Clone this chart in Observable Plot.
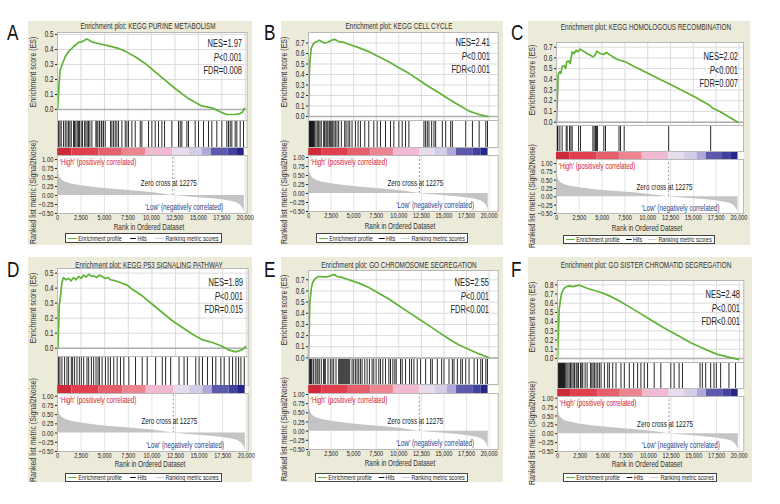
<!DOCTYPE html>
<html><head><meta charset="utf-8">
<script src="https://cdn.jsdelivr.net/npm/d3@7"></script>
<script src="https://cdn.jsdelivr.net/npm/@observablehq/plot@0.6"></script>
<style>
body{margin:0;background:#fff;}
#root{position:relative;width:780px;height:504px;overflow:hidden;font-family:"Liberation Sans",Arial,sans-serif;color:#222;}
.box{position:absolute;background:#ecead9;}
.abs{position:absolute;white-space:nowrap;line-height:1;}
.letter{font-size:22px;color:#111;transform-origin:0 0;transform:scaleX(0.78);}
.title{font-size:8.5px;transform:translate(-50%,-50%) scaleX(0.75);color:#333;}
.ylab{font-size:9.5px;transform:translate(-50%,-50%) rotate(-90deg) scaleX(0.74);color:#333;}
.nes{font-size:10px;transform-origin:100% 50%;transform:translate(-100%,-50%) scaleX(0.75);}
.xlab{font-size:8.5px;transform:translate(-50%,-50%) scaleX(0.75);color:#333;}
.legend{position:absolute;background:#fff;border:1px solid #444;box-sizing:border-box;overflow:hidden;}
.legend .in{height:100%;display:flex;align-items:center;justify-content:space-between;padding:0 3px;box-sizing:border-box;font-size:7.5px;color:#222;transform-origin:0 50%;transform:scaleX(0.72);white-space:nowrap;}
.legend .it{display:flex;align-items:center;gap:2px;}
.legend .ln{display:inline-block;width:12px;border-top:1.5px solid;}
svg{overflow:visible;}
</style></head><body><div id="root"></div><script>
// ---------------- data ----------------
const panelLetters = ["A","B","C","D","E","F"];
const panelTitles = [
  "Enrichment plot: KEGG PURINE METABOLISM",
  "Enrichment plot: KEGG CELL CYCLE",
  "Enrichment plot: KEGG HOMOLOGOUS RECOMBINATION",
  "Enrichment plot: KEGG P53 SIGNALING PATHWAY",
  "Enrichment plot: GO CHROMOSOME SEGREGATION",
  "Enrichment plot: GO SISTER CHROMATID SEGREGATION"
];
const nesValues = ["1.97","2.41","2.02","1.89","2.55","2.48"];
const pValues = ["<0.001","<0.001","<0.001","<0.001","<0.001","<0.001"];
const fdrValues = ["=0.008","<0.001","=0.007","=0.015","<0.001","<0.001"];

const xTicks = [0,2500,5000,7500,10000,12500,15000,17500,20000];
const rankedTicks = [1,0.75,0.5,0.25,0,-0.25,-0.5];
const esTicks5 = [0,0.1,0.2,0.3,0.4,0.5];
const esTicks7 = [0,0.1,0.2,0.3,0.4,0.5,0.6,0.7];
const esTicks8 = [0,0.1,0.2,0.3,0.4,0.5,0.6,0.7,0.8];
const zeroCross = 12275;

// ranked list metric (Signal2Noise), shared by all panels
const metricRank  = [0,40,120,250,500,900,1500,2500,4000,5500,7000,8500,10000,11200,12275,13500,15000,16500,17500,18500,19100,19500,19750,19900];
const metricValue = [0.98,0.8,0.62,0.5,0.42,0.36,0.32,0.27,0.22,0.18,0.15,0.12,0.08,0.04,0,-0.03,-0.06,-0.09,-0.12,-0.16,-0.2,-0.27,-0.36,-0.46];

// colour bar segments
const cbStart = [0,1500,4400,6900,9400,12300,14000,15400,16400,18200,19100];
const cbEnd   = [1500,4400,6900,9400,12300,14000,15400,16400,18200,19100,19900];
const cbColor = ["#cf2a3a","#e0404e","#e65f6c","#ec8590","#f2bad2","#e6dcee","#d4cde7","#b0a9d8","#5d5aad","#41419f","#24248b"];

// enrichment score curves
const esRankA  = [0,40,180,287,465,820,1173,1700,2238,2590,3125,3655,4360,5430,6490,7200,8270,9330,10395,11460,12520,13940,15360,16420,17490,18015,18900,19440,19720,19900];
const esValueA = [0,0.029,0.185,0.262,0.295,0.351,0.385,0.418,0.447,0.451,0.469,0.451,0.44,0.424,0.407,0.389,0.351,0.307,0.251,0.196,0.14,0.073,0.024,0.011,-0.02,-0.033,-0.033,-0.027,-0.016,0.007];
const esRankB  = [0,77,151,300,559,929,1190,1485,1781,2150,2520,2893,3337,3893,4448,5560,6670,7780,8890,10000,11115,12226,13337,14450,15560,16670,17780,18890,19630,19900];
const esValueB = [0,0.363,0.522,0.649,0.697,0.713,0.726,0.713,0.70,0.707,0.726,0.735,0.713,0.707,0.688,0.656,0.618,0.57,0.522,0.465,0.411,0.347,0.284,0.226,0.165,0.108,0.051,0.019,0.003,0];
const esRankC  = [0,110,183,329,475,622,841,987,1134,1317,1500,1719,1938,2158,2304,2597,2962,3328,3694,3986,4242,4425,4791,5157,5450,5888,6620,7168,7534,8448,9911,11373,12290,13570,15030,16860,17040,17960,19050,19890];
const esValueC = [0,0.252,0.439,0.47,0.455,0.517,0.527,0.501,0.564,0.573,0.548,0.657,0.641,0.672,0.657,0.682,0.663,0.641,0.626,0.61,0.626,0.663,0.641,0.632,0.651,0.626,0.588,0.573,0.564,0.523,0.461,0.399,0.361,0.305,0.243,0.153,0.134,0.097,0.041,0];
const esRankD  = [0,40,110,180,320,465,640,890,1175,1460,1700,1950,2240,2520,2770,3020,3300,3585,3870,4150,4435,4720,5075,5360,5610,6140,6850,7380,7910,8975,10040,11100,12165,13230,14290,15355,16420,17485,18195,18900,19435,19790,19900];
const esValueD = [0,0,0.127,0.283,0.349,0.438,0.471,0.456,0.465,0.449,0.471,0.456,0.478,0.465,0.487,0.473,0.493,0.478,0.482,0.471,0.487,0.478,0.465,0.471,0.456,0.449,0.433,0.42,0.393,0.349,0.293,0.238,0.183,0.138,0.093,0.056,0.038,0.011,-0.013,-0.024,-0.013,0,0.011];
const esRankE  = [0,77,151,300,448,744,1115,1485,1855,2226,2596,2893,3152,3707,4448,5560,6670,7780,8890,10000,11115,12226,13337,14450,15560,16670,17780,18890,19900];
const esValueE = [0,0.259,0.497,0.616,0.676,0.712,0.729,0.729,0.723,0.729,0.741,0.747,0.729,0.721,0.70,0.67,0.631,0.58,0.527,0.468,0.408,0.348,0.289,0.229,0.17,0.116,0.075,0.036,0.006];
const esRankF  = [0,110,183,329,475,695,987,1317,1682,2048,2414,2780,3328,4060,4791,5705,6620,7716,8814,10276,11739,13202,14665,16128,17590,19053,19900];
const esValueF = [0,0.316,0.534,0.643,0.716,0.76,0.781,0.789,0.781,0.789,0.796,0.781,0.76,0.738,0.716,0.68,0.636,0.571,0.506,0.418,0.331,0.251,0.171,0.106,0.044,0.008,-0.011];

// gene set hits (rank positions)
const hitsA = [110,250,390,640,820,1000,1175,1315,1460,1700,1810,1950,2100,2240,2345,2520,2665,2880,3020,3160,3300,3445,3660,4085,4190,4300,4475,4655,4725,4900,5080,5650,5790,5970,6145,6320,6500,6855,7210,7390,7565,7920,8275,8810,8985,9695,10050,10405,10760,11115,11400,12180,12890,13070,13245,13780,13955,14665,15020,15550,16085,16440,16970,17505,18040,18215,18395,18570,18925,19100,19460,19815];
const hitsB = [0,40,80,120,160,200,250,300,350,400,450,500,560,670,818,966,1115,1263,1411,1670,1781,1930,2040,2152,2300,2411,2522,2670,2818,2967,3152,3337,3633,4004,4152,4374,4559,4818,5189,5485,5745,6226,6670,7226,7597,7967,8522,9078,9448,10004,10375,10745,11115,12782,12967,13153,13338,13635,13893,14078,14819,15190,15745,15930,17412,18153,18894,19635,19820];
const hitsC = [30,60,120,150,370,620,1060,1170,1430,1580,1720,2420,2630,3990,4130,4280,4390,4500,5190,5370,6850,7020,7420,12300,16900];
const hitsD = [110,250,465,750,1000,1175,1460,1600,1810,2060,2310,2520,2770,3120,3300,3585,3830,4080,4295,4435,4720,5075,5360,5605,5960,6315,6670,7025,7555,8265,8975,9505,10395,11100,11455,11990,12875,13410,13760,14650,15000,15360,15890,16420,16775,17310,17660,18195,18550,18900,19185,19435,19790];
const hitsE = [3,77,152,226,300,374,559,744,930,1040,1189,1411,1670,1744,1855,2152,2411,2596,2781,3041,3337,3448,3559,3670,3781,3893,4004,4115,4226,4337,4448,4559,4819,5004,5189,5374,5560,5745,5930,6226,6485,6745,7041,7226,7485,7782,7967,8226,8522,8893,9078,9337,9560,9708,10189,10375,10745,11190,11412,11671,12041,12412,12967,13523,13708,14264,14745,15005,15560,15931,16116,16486,16857,17042,17412,17783,18338,18709,19079,19264,19635,19820];
const hitsF = [37,90,146,200,256,310,366,420,475,530,585,640,695,768,841,951,1134,1280,1426,1573,1719,1865,2048,2158,2304,2523,2670,2779,3035,3255,3621,3767,3913,4059,4242,4425,4608,4791,5157,5522,5705,6071,6436,6985,7351,7899,8375,8814,9179,9545,9911,10642,11374,12471,12836,13385,13750,15689,15945,16310,16859,17225,17481,17956,18870,19601];

// ---------------- layout (pixels) ----------------
const layouts = [
 {letter:[7,22], box:[28,21,224,224], plotL:57.3, plotR:247, xMax:20200, esTop:32, esBot:120, esDom:[-0.073,0.513], hitsBot:147, cbTop:148, cbBot:155, rank1:159, rankM:213, titleY:26, nesY:44, nesR:242, xlabY:227, legend:[65,233,157,10]},
 {letter:[264,22], box:[281,21,222,224], plotL:308.3, plotR:498, xMax:21000, esTop:32, esBot:120, esDom:[-0.038,0.80], hitsBot:147, cbTop:148, cbBot:155, rank1:157, rankM:211, titleY:26, nesY:43, nesR:490, xlabY:226, legend:[316,233,152,10]},
 {letter:[511,22], box:[528,21,222,224], plotL:556, plotR:743, xMax:20500, esTop:42, esBot:125, esDom:[-0.031,0.744], hitsBot:151, cbTop:152, cbBot:159, rank1:163, rankM:213, titleY:27, nesY:57, nesR:738, xlabY:227.5, legend:[563,235,152,9]},
 {letter:[7,259], box:[28,257,224,225], plotL:57.3, plotR:248, xMax:20200, esTop:268, esBot:356, esDom:[-0.055,0.531], hitsBot:385, cbTop:385, cbBot:393, rank1:395.7, rankM:451, titleY:265, nesY:283, nesR:243, xlabY:464, legend:[65,473,157,9]},
 {letter:[264,259], box:[281,257,222,225], plotL:308.3, plotR:498, xMax:21000, esTop:270, esBot:358, esDom:[-0.005,0.783], hitsBot:384, cbTop:385, cbBot:393, rank1:394, rankM:449, titleY:265, nesY:283, nesR:489, xlabY:463, legend:[315,473,153,9]},
 {letter:[511,259], box:[528,257,224,225], plotL:556.7, plotR:743, xMax:20500, esTop:280, esBot:362, esDom:[-0.044,0.847], hitsBot:388, cbTop:389, cbBot:396, rank1:397.7, rankM:451, titleY:265, nesY:295, nesR:740, xlabY:464, legend:[563,473,154,9]}
];

const esRanks = [esRankA,esRankB,esRankC,esRankD,esRankE,esRankF];
const esValues = [esValueA,esValueB,esValueC,esValueD,esValueE,esValueF];
const hitsAll = [hitsA,hitsB,hitsC,hitsD,hitsE,hitsF];
const esTicksAll = [esTicks5,esTicks7,esTicks7,esTicks5,esTicks7,esTicks8];

const FONT = '"Liberation Sans",Arial,sans-serif';
const GREEN = "#5fb336";
const SX = 0.74; // horizontal condensing of SVG text
const root = document.getElementById("root");
const metric = metricRank.map((r,i)=>({rank:r, value:metricValue[i]}));
const segs = cbStart.map((s,i)=>({start:s, end:cbEnd[i], color:cbColor[i]}));

function div(cls, left, top, html, extra) {
  const d = document.createElement("div");
  d.className = cls;
  d.style.left = left + "px";
  d.style.top = top + "px";
  if (html != null) d.innerHTML = html;
  if (extra) Object.assign(d.style, extra);
  root.appendChild(d);
  return d;
}
function condense(svg) {
  svg.querySelectorAll("text, tspan").forEach(t => {
    const x = t.getAttribute("x");
    if (x != null) t.setAttribute("x", (+x) / SX);
    if (t.tagName.toLowerCase() === "text") {
      const tr = t.getAttribute("transform") || "";
      t.setAttribute("transform", (tr + " scale(" + SX + ",1)").trim());
    }
  });
}
function place(svg, left, top) {
  condense(svg);
  const w = document.createElement("div");
  w.className = "abs";
  w.style.left = left + "px";
  w.style.top = top + "px";
  w.appendChild(svg);
  root.appendChild(w);
}

const ML = 22;
layouts.forEach((L, i) => {
  const [bx,by,bw,bh] = L.box;
  div("box", bx, by, null, {width:bw+"px", height:bh+"px"});
  div("abs letter", L.letter[0], L.letter[1], panelLetters[i]);
  const cx = (L.plotL + L.plotR)/2 - 4;
  div("abs title", cx, L.titleY, panelTitles[i]);
  const pw = L.plotR - L.plotL;

  // Enrichment score panel
  const esData = esRanks[i].map((r,k)=>({rank:r, es:esValues[i][k]}));
  const es = Plot.plot({
    width: pw + ML, height: L.esBot - L.esTop,
    marginLeft: ML, marginRight: 0, marginTop: 0, marginBottom: 0,
    x: {domain:[0, L.xMax], axis:null},
    y: {domain: L.esDom, axis:null},
    style: {fontFamily: FONT, background:"transparent", overflow:"visible"},
    marks: [
      Plot.frame({fill:"white"}),
      Plot.gridX(xTicks, {stroke:"#dcdcdc", strokeOpacity:1}),
      Plot.gridY(esTicksAll[i], {stroke:"#dcdcdc", strokeOpacity:1}),
      Plot.ruleY([0], {stroke:"#b0b0b0", strokeWidth:1.5}),
      Plot.axisY(esTicksAll[i], {tickFormat: d3.format(".1f"), tickSize:2, tickPadding:2, fontSize:8.5, label:null, color:"#222"}),
      Plot.line(esData, {x:"rank", y:"es", stroke:GREEN, strokeWidth:1.7}),
      Plot.frame({stroke:"#b8b8b8"})
    ]
  });
  place(es, L.plotL - ML, L.esTop);

  // hits
  const hits = Plot.plot({
    width: pw, height: L.hitsBot - L.esBot,
    margin: 0,
    x: {domain:[0, L.xMax], axis:null},
    style: {background:"transparent"},
    marks: [
      Plot.frame({fill:"white"}),
      Plot.ruleX(hitsAll[i], {stroke:"#111", strokeWidth:0.9}),
      Plot.frame({stroke:"#b8b8b8"})
    ]
  });
  place(hits, L.plotL, L.esBot);

  // colour bar
  const cb = Plot.plot({
    width: pw, height: L.cbBot - L.cbTop,
    margin: 0,
    x: {domain:[0, L.xMax], axis:null},
    color: {type:"identity"},
    style: {background:"transparent"},
    marks: [
      Plot.frame({fill:"white"}),
      Plot.barX(segs, {x1:"start", x2:"end", fill:"color"})
    ]
  });
  place(cb, L.plotL, L.cbTop);

  // ranked list metric
  const pxPer = (L.rankM - L.rank1) / 1.5;
  const yTop = 1 + (L.rank1 - L.cbBot) / pxPer;
  const MB = 10;
  const rk = Plot.plot({
    width: pw + ML, height: (L.rankM - L.cbBot) + MB,
    marginLeft: ML, marginRight: 0, marginTop: 0, marginBottom: MB,
    x: {domain:[0, L.xMax], axis:null},
    y: {domain:[-0.5, yTop], axis:null},
    style: {fontFamily: FONT, background:"transparent", overflow:"visible"},
    marks: [
      Plot.frame({fill:"white"}),
      Plot.gridX(xTicks, {stroke:"#e4e4e4", strokeOpacity:1}),
      Plot.areaY(metric, {x:"rank", y:"value", fill:"#c4c4c4"}),
      Plot.ruleX([zeroCross], {y1:0, y2:yTop, stroke:"#999", strokeDasharray:"2,2"}),
      Plot.text(["\u2018High\u2019 (positively correlated)"], {frameAnchor:"top-left", dx:2, dy:3, lineAnchor:"top", textAnchor:"start", fill:"#d4202c", fontSize:8.5}),
      Plot.text(["Zero cross at " + zeroCross], {x:()=>zeroCross, frameAnchor:"top", dy:28, dx:-4, lineAnchor:"middle", textAnchor:"middle", fill:"#222", fontSize:8.5}),
      Plot.text(["\u2018Low\u2019 (negatively correlated)"], {frameAnchor:"bottom-right", dx:-24, dy:-3, lineAnchor:"bottom", textAnchor:"end", fill:"#1f3f8a", fontSize:8.5}),
      Plot.axisY(rankedTicks, {tickFormat: d3.format(".2f"), tickSize:2, tickPadding:2, fontSize:8, label:null, color:"#222"}),
      Plot.axisX(xTicks, {tickFormat: d3.format(","), tickSize:0, tickPadding:1, fontSize:7.5, label:null, color:"#222"}),
      Plot.frame({stroke:"#b8b8b8"})
    ]
  });
  place(rk, L.plotL - ML, L.cbBot);

  // axis titles
  const ylx = L.plotL - 24.5;
  div("abs ylab", ylx, (L.esTop + L.esBot)/2 - 4, "Enrichment score (ES)");
  div("abs ylab", ylx, L.hitsBot + 45, "Ranked list metric (Signal2Noise)");
  div("abs xlab", cx + 1, L.xlabY, "Rank in Ordered Dataset");

  // statistics
  div("abs nes", L.nesR, L.nesY, "NES=" + nesValues[i]);
  div("abs nes", L.nesR, L.nesY + 13.5, "<i>P</i>" + pValues[i].replace("<","&lt;"));
  div("abs nes", L.nesR, L.nesY + 27, "FDR" + fdrValues[i].replace("<","&lt;"));

  // legend
  const [lx,ly,lw,lh] = L.legend;
  const lg = div("legend", lx, ly, null, {width: lw+"px", height: lh+"px"});
  lg.innerHTML = '<div class="in" style="width:' + ((lw-2)/0.72) + 'px">' +
    '<span class="it"><span class="ln" style="border-color:'+GREEN+'"></span>Enrichment profile</span>' +
    '<span class="it"><span class="ln" style="border-color:#111;width:8px"></span>Hits</span>' +
    '<span class="it"><span class="ln" style="border-color:#ccc"></span>Ranking metric scores</span></div>';
});
</script></body></html>
